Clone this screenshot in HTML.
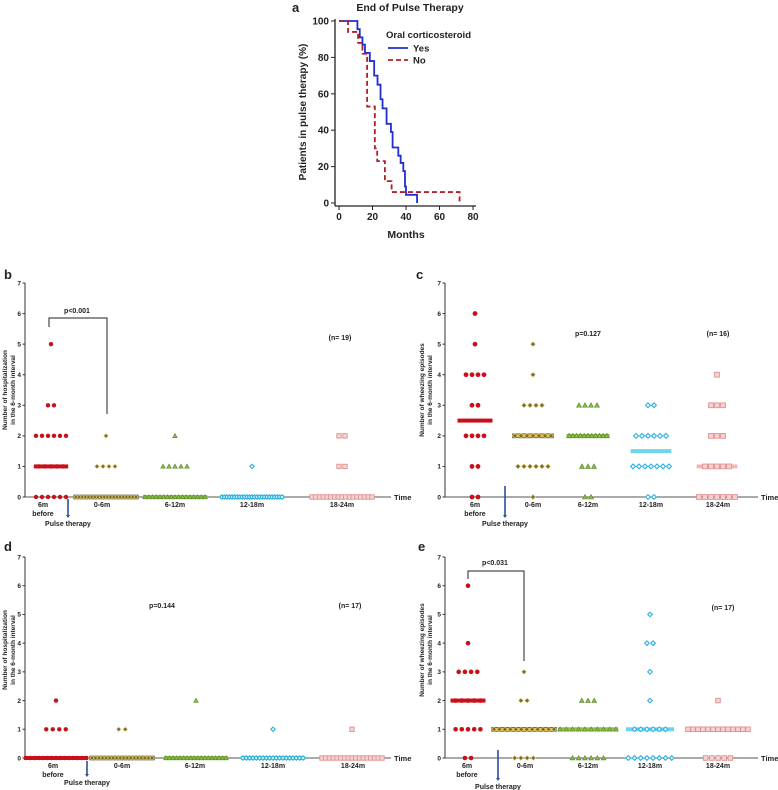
<!DOCTYPE html>
<html><head><meta charset="utf-8"><style>
html,body{margin:0;padding:0;background:#fff;}
svg{display:block;font-family:"Liberation Sans",Arial,sans-serif;}
text{font-weight:bold;fill:#222;}
</style></head><body>
<svg id="fig" width="778" height="790" viewBox="0 0 778 790" xmlns="http://www.w3.org/2000/svg"></svg>
<script>
// ---------- Panel a data (Kaplan-Meier) ----------
const kmYesMonths = [0,11,12.4,14,15.5,18.4,21,23,24.8,26,28.4,31,32,35.4,36.8,38.4,39.4,40,46.6];
const kmYesPct    = [100,95.5,91,87,82.5,78,70,65,57,52,43.5,39,30.5,26,22,17.5,9,4.5,0];
const kmNoMonths  = [0,5.4,11.4,14,16.8,21.4,22.8,27.4,31.4,39.4,72];
const kmNoPct     = [100,94,88,82,53,30,23,12,6,6,0];
const kmXTicks = [0,20,40,60,80];
const kmYTicks = [0,20,40,60,80,100];
// ---------- Panels b-e data ----------
const categories = ["6m","0-6m","6-12m","12-18m","18-24m"];
const yTicks = [0,1,2,3,4,5,6,7];
// counts of patients at each level 0..6, per interval group
const hospB  = [[6,5,6,2,0,1,0],[20,4,1,0,0,0,0],[17,5,1,0,0,0,0],[25,1,0,0,0,0,0],[17,2,2,0,0,0,0]];
const hospBMedian = [1,0,0,0,0];
const wheezeC = [[2,2,4,2,4,1,1],[1,6,7,4,1,1,0],[2,3,11,4,0,0,0],[2,7,6,2,0,0,0],[7,5,3,3,1,0,0]];
const wheezeCMedian = [2.5,2,2,1.5,1];
const hospD  = [[15,4,1,0,0,0,0],[18,2,0,0,0,0,0],[18,0,1,0,0,0,0],[19,1,0,0,0,0,0],[17,1,0,0,0,0,0]];
const hospDMedian = [0,0,0,0,0];
const wheezeE = [[2,5,5,4,1,0,1],[4,12,2,1,0,0,0],[6,10,3,0,0,0,0],[8,6,1,1,2,1,0],[5,13,1,0,0,0,0]];
const wheezeEMedian = [2,1,1,1,1];

const NS="http://www.w3.org/2000/svg";
const svg=document.getElementById('fig');
function el(tag,attrs,parent,txt){const e=document.createElementNS(NS,tag);for(const k in attrs)e.setAttribute(k,attrs[k]);if(txt!==undefined)e.textContent=txt;(parent||svg).appendChild(e);return e;}

// ---------- Panel a ----------
(function(){
  const g=el('g',{});
  
  
  const x=m=>339+m*1.675, y=p=>203-p*1.82;
  el('text',{x:292,y:12,'font-size':13},g,'a');
  el('text',{x:410,y:11,'font-size':10.5,'text-anchor':'middle'},g,'End of Pulse Therapy');
  el('line',{x1:335,y1:19,x2:335,y2:206,stroke:'#222','stroke-width':1.3},g);
  el('line',{x1:335,y1:206,x2:476,y2:206,stroke:'#222','stroke-width':1.3},g);
  kmYTicks.forEach(t=>{el('line',{x1:331,y1:y(t),x2:335,y2:y(t),stroke:'#222'},g);
    const tl=el('text',{x:329,y:y(t)+3.5,'font-size':10,'text-anchor':'end'},g,t);
    });
  kmXTicks.forEach(t=>{el('line',{x1:x(t),y1:206,x2:x(t),y2:210,stroke:'#222'},g);
    const tl=el('text',{x:x(t),y:220,'font-size':10,'text-anchor':'middle'},g,t);
    });
  const xt=el('text',{x:406,y:238,'font-size':10.5,'text-anchor':'middle'},g,'Months');
  
  const yt=el('text',{x:0,y:0,'font-size':10,'text-anchor':'middle',transform:'translate(306,112) rotate(-90)'},g,'Patients in pulse therapy (%)');
  
  function step(ms,ps){let d=`M${x(ms[0])},${y(ps[0])}`;for(let i=1;i<ms.length;i++){d+=` H${x(ms[i])} V${y(ps[i])}`;}return d;}
  const ly=el('path',{d:step(kmYesMonths,kmYesPct),fill:'none',stroke:'#1f2fd0','stroke-width':1.8},g);
  
  const ln=el('path',{d:step(kmNoMonths,kmNoPct),fill:'none',stroke:'#b0202a','stroke-width':1.8,'stroke-dasharray':'5,3'},g);
  
  const lg=el('g',{},g);
  el('text',{x:386,y:38,'font-size':9.5},lg,'Oral corticosteroid');
  el('line',{x1:388,y1:48,x2:408,y2:48,stroke:'#1f2fd0','stroke-width':1.8},lg);
  el('text',{x:413,y:51.5,'font-size':9.5},lg,'Yes');
  el('line',{x1:388,y1:60,x2:408,y2:60,stroke:'#b0202a','stroke-width':1.8,'stroke-dasharray':'5,3'},lg);
  el('text',{x:413,y:63.5,'font-size':9.5},lg,'No');
})();

// ---------- Dot panels ----------
const styles=[
  {shape:'circle',fill:'#c8101a',stroke:'#c8101a',med:'#c8101a'},
  {shape:'diamond',fill:'#7a6a2a',stroke:'#d8c870',med:'#e8c040',medStroke:'#333'},
  {shape:'triangle',fill:'#8cc04a',stroke:'#5e8a28',med:'#8cc04a'},
  {shape:'odiamond',fill:'#fff',stroke:'#2ab0e0',med:'#6fd4ee'},
  {shape:'square',fill:'#f6d2d2',stroke:'#e09090',med:'#f2b8b8'}];
function marker(g,s,cx,cy,r){
  let e;
  if(s.shape==='circle')e=el('circle',{cx,cy,r:r,fill:s.fill},g);
  else if(s.shape==='diamond')e=el('path',{d:`M${cx},${cy-r} L${cx+r},${cy} L${cx},${cy+r} L${cx-r},${cy}Z`,fill:s.fill,stroke:s.stroke,'stroke-width':0.6},g);
  else if(s.shape==='odiamond')e=el('path',{d:`M${cx},${cy-r} L${cx+r},${cy} L${cx},${cy+r} L${cx-r},${cy}Z`,fill:s.fill,stroke:s.stroke,'stroke-width':1.1},g);
  else if(s.shape==='triangle')e=el('path',{d:`M${cx},${cy-r} L${cx+r},${cy+r*0.8} L${cx-r},${cy+r*0.8}Z`,fill:s.fill,stroke:s.stroke,'stroke-width':0.7},g);
  else e=el('rect',{x:cx-r,y:cy-r,width:2*r,height:2*r,fill:s.fill,stroke:s.stroke,'stroke-width':0.9},g);
  return e;
}
function dotPanel(cfg,counts,medians){
  const g=el('g',{});
  
  
  const yv=v=>cfg.y0-v*(cfg.y0-cfg.y7)/7;
  el('text',{x:cfg.lx,y:cfg.ly,'font-size':13},g,cfg.letter);
  el('line',{x1:cfg.ax,y1:cfg.y7,x2:cfg.ax,y2:cfg.y0,stroke:'#333','stroke-width':1},g);
  el('line',{x1:cfg.ax,y1:cfg.y0,x2:cfg.xEnd,y2:cfg.y0,stroke:'#555','stroke-width':1},g);
  const tm=el('text',{x:cfg.xEnd+3,y:cfg.y0+3,'font-size':7.5},g,'Time');
  
  yTicks.forEach(t=>{el('line',{x1:cfg.ax-2.5,y1:yv(t),x2:cfg.ax,y2:yv(t),stroke:'#333'},g);
    const tl=el('text',{x:cfg.ax-4,y:yv(t)+2.3,'font-size':6.5,'text-anchor':'end'},g,t);
    });
  const yt=el('text',{'font-size':6.5,'text-anchor':'middle',transform:`translate(${cfg.ytx},${cfg.yty}) rotate(-90)`},g);
  
  el('tspan',{x:0,dy:0},yt,cfg.yTitle[0]);el('tspan',{x:0,dy:8},yt,cfg.yTitle[1]);
  categories.forEach((c,i)=>{
    const t=el('text',{x:cfg.labelX[i],y:cfg.y0+10,'font-size':7,'text-anchor':'middle'},g,c);
    
    if(i===0)el('text',{x:cfg.labelX[i],y:cfg.y0+19,'font-size':7,'text-anchor':'middle'},g,'before');
  });
  const ar=el('g',{},g);
  el('line',{x1:cfg.arrowX,y1:cfg.arrowY1,x2:cfg.arrowX,y2:cfg.arrowY2-3,stroke:'#2a4f9a','stroke-width':1.6},ar);
  el('path',{d:`M${cfg.arrowX-2},${cfg.arrowY2-3} L${cfg.arrowX+2},${cfg.arrowY2-3} L${cfg.arrowX},${cfg.arrowY2}Z`,fill:'#2a4f9a'},ar);
  el('text',{x:cfg.arrowX,y:cfg.arrowY2+8,'font-size':7,'text-anchor':'middle'},ar,'Pulse therapy');
  counts.forEach((grp,gi)=>{
    const s=styles[gi];
    const gg=el('g',{},g);
    
    
    let widest=0;
    grp.forEach((n,lv)=>{if(n>0){const sp=Math.min(cfg.sp,cfg.maxW/Math.max(1,n-1));widest=Math.max(widest,sp*(n-1));}});
    const mw=Math.max(cfg.medW,widest+2*cfg.r);
    const cx=cfg.centers[gi];
    const m=el('rect',{x:cx-mw/2,y:yv(medians[gi])-2,width:mw,height:4,fill:s.med,stroke:s.medStroke||'none','stroke-width':0.6},gg);
    
    grp.forEach((n,lv)=>{
      const sp=Math.min(cfg.sp,cfg.maxW/Math.max(1,n-1));
      for(let k=0;k<n;k++){
        const px=cx+(k-(n-1)/2)*sp;
        const d=marker(gg,s,px,yv(lv),cfg.r);
        
        
      }
    });
  });
  cfg.notes.forEach(n=>{const t=el('text',{x:n[0],y:n[1],'font-size':7,'text-anchor':'middle'},g,n[2]);
    });
  if(cfg.bracket){const b=cfg.bracket;
    const p=el('path',{d:`M${b[0]},${b[3]} V${b[2]} H${b[1]} V${b[4]}`,fill:'none',stroke:'#222','stroke-width':1},g);
    }
}
const hospTitle=['Number of hospitalization','in the 6-month interval'];
const wheezeTitle=['Number of wheezing episodes','in the 6-month interval'];
dotPanel({name:'panel-b',letter:'b',lx:4,ly:279,ax:25,y0:497,y7:283,xEnd:391,ytx:7,yty:390,yTitle:hospTitle,
  labelX:[43,102,175,252,342],centers:[51,106,175,252,342],sp:6,maxW:60,r:2.2,medW:30,
  arrowX:68,arrowY1:499,arrowY2:518,notes:[[77,313,'p<0.001'],[340,340,'(n= 19)']],
  bracket:[49,107,318,327,414]},hospB,hospBMedian);
dotPanel({name:'panel-c',letter:'c',lx:416,ly:279,ax:445,y0:497,y7:283,xEnd:758,ytx:424,yty:390,yTitle:wheezeTitle,
  labelX:[475,533,588,651,718],centers:[475,533,588,651,717],sp:6,maxW:38,r:2.4,medW:35,
  arrowX:505,arrowY1:486,arrowY2:518,notes:[[588,336,'p=0.127'],[718,336,'(n= 16)']]},wheezeC,wheezeCMedian);
dotPanel({name:'panel-d',letter:'d',lx:4,ly:551,ax:25,y0:758,y7:557,xEnd:391,ytx:7,yty:650,yTitle:hospTitle,
  labelX:[53,122,195,273,353],centers:[56,122,196,273,352],sp:6.5,maxW:60,r:2.2,medW:30,
  arrowX:87,arrowY1:761,arrowY2:777,notes:[[162,608,'p=0.144'],[350,608,'(n= 17)']]},hospD,hospDMedian);
dotPanel({name:'panel-e',letter:'e',lx:418,ly:551,ax:445,y0:758,y7:557,xEnd:758,ytx:424,yty:650,yTitle:wheezeTitle,
  labelX:[467,525,588,650,718],centers:[468,524,588,650,718],sp:6.2,maxW:60,r:2.3,medW:35,
  arrowX:498,arrowY1:750,arrowY2:781,notes:[[495,565,'p<0.031'],[723,610,'(n= 17)']],
  bracket:[468,524,571,579,661]},wheezeE,wheezeEMedian);
</script>
</body></html>
